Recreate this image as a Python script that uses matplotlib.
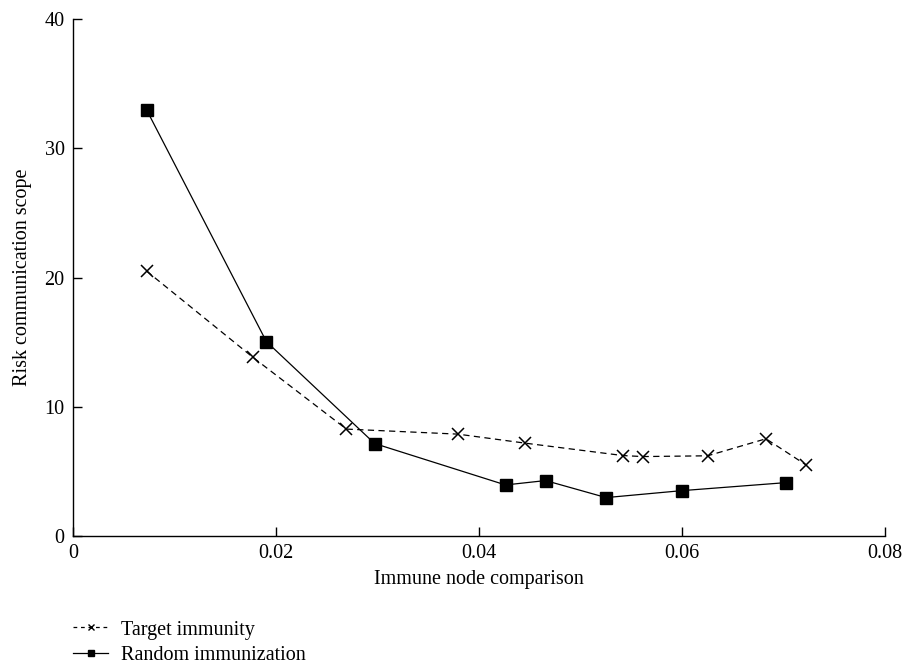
import matplotlib.pyplot as plt
from matplotlib.lines import Line2D

plt.rcParams['font.family'] = ['Liberation Serif', 'DejaVu Serif']

# Target immunity series
target_x = [0.00725, 0.01775, 0.02694, 0.03792, 0.04456, 0.05416, 0.05613, 0.06253, 0.06828, 0.07227]
target_y = [20.5, 13.8, 8.25, 7.86, 7.16, 6.2, 6.12, 6.18, 7.5, 5.45]

# Random immunization series
random_x = [0.00725, 0.01906, 0.02972, 0.04262, 0.04656, 0.05253, 0.06001, 0.07024]
random_y = [33.0, 15.03, 7.13, 3.92, 4.26, 2.94, 3.48, 4.1]

x_ticks = [0, 0.02, 0.04, 0.06, 0.08]
x_tick_labels = ['0', '0.02', '0.04', '0.06', '0.08']
y_ticks = [0, 10, 20, 30, 40]

fs = 14.5

fig = plt.figure(figsize=(9.03, 6.65), dpi=100)
ax = fig.add_axes([0.0808, 0.1947, 0.8992, 0.776])

ax.plot(target_x, target_y, color='black', linestyle=(0, (5, 3.5)), linewidth=0.9,
        marker='x', markersize=8, markeredgewidth=1.1)
ax.plot(random_x, random_y, color='black', linestyle='-', linewidth=0.9,
        marker='s', markersize=8.5)

ax.set_xlim(0, 0.08)
ax.set_ylim(0, 40)
ax.set_xticks(x_ticks, x_tick_labels)
ax.set_yticks(y_ticks)
ax.spines['top'].set_visible(False)
ax.spines['right'].set_visible(False)
for side in ('left', 'bottom'):
    ax.spines[side].set_linewidth(1.0)
ax.tick_params(direction='in', length=6.5, width=1.0, labelsize=fs, pad=6)

ax.set_xlabel('Immune node comparison', fontsize=fs, labelpad=5)
ax.set_ylabel('Risk communication scope', fontsize=fs, labelpad=9)

handles = [
    Line2D([], [], color='black', linestyle=(0, (3, 3)), linewidth=0.9,
           marker='x', markersize=4, markeredgewidth=1.0),
    Line2D([], [], color='black', linestyle='-', linewidth=0.9,
           marker='s', markersize=4.5),
]
fig.legend(handles, ['Target immunity', 'Random immunization'],
           loc='upper left', bbox_to_anchor=(0.081, 0.067), frameon=False,
           fontsize=fs, handlelength=1.75, handletextpad=0.65,
           labelspacing=0.33, borderpad=0, borderaxespad=0)

fig.savefig('out.png', dpi=100)
